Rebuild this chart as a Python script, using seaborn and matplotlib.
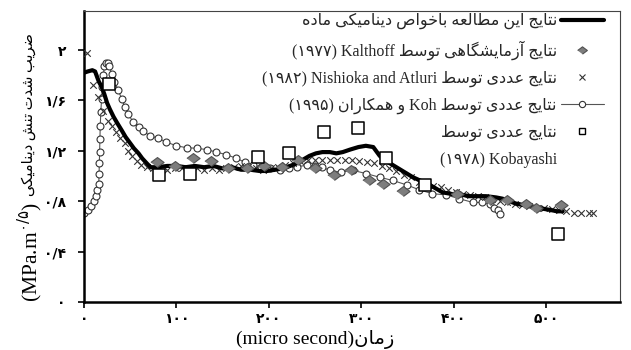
import unicodedata
import matplotlib
matplotlib.use("Agg")
import matplotlib.pyplot as plt
from matplotlib.lines import Line2D
import seaborn as sns

# ---------------------------------------------------------------- data
# time in micro seconds, dynamic stress intensity factor in MPa.m^0.5
study = [(0, 1.82), (4, 1.83), (9, 1.84), (12, 1.83), (14, 1.79), (16, 1.75),
         (19, 1.71), (22, 1.65), (25, 1.58), (28, 1.53), (32, 1.47), (36, 1.42),
         (41, 1.36), (45, 1.31), (50, 1.26), (54, 1.22), (59, 1.18), (63, 1.14),
         (68, 1.10), (72, 1.07), (80, 1.07), (90, 1.08), (100, 1.08), (110, 1.07),
         (120, 1.08), (130, 1.07), (140, 1.08), (150, 1.06), (160, 1.07), (170, 1.05),
         (180, 1.05), (190, 1.04), (198, 1.04), (207, 1.05), (215, 1.06), (223, 1.08),
         (230, 1.10), (237, 1.13), (244, 1.16), (251, 1.18), (258, 1.19), (266, 1.19),
         (273, 1.18), (280, 1.19), (288, 1.21), (297, 1.23), (305, 1.24), (313, 1.23),
         (320, 1.16), (329, 1.11), (338, 1.07), (347, 1.03), (356, 0.99), (365, 0.96),
         (374, 0.93), (381, 0.90), (388, 0.87), (396, 0.86), (403, 0.85), (410, 0.85),
         (417, 0.84), (426, 0.84), (435, 0.84), (446, 0.83), (453, 0.82), (460, 0.80),
         (468, 0.78), (475, 0.77), (482, 0.76), (490, 0.75), (497, 0.74), (505, 0.73),
         (512, 0.72), (518, 0.72)]

kalthoff = [(79, 1.11), (99, 1.08), (118, 1.14), (137, 1.12), (156, 1.06), (176, 1.06),
            (195, 1.08), (214, 1.07), (232, 1.13), (250, 1.06), (270, 1.01), (289, 1.045),
            (308, 0.965), (324, 0.94), (345, 0.88), (404, 0.86), (439, 0.81), (458, 0.81),
            (478, 0.78), (489, 0.75), (516, 0.77)]

nishioka = [(3, 1.98), (10, 1.72), (15, 1.63), (21, 1.52), (26, 1.44), (30, 1.40),
            (35, 1.35), (39, 1.30), (44, 1.26), (48, 1.20), (52, 1.16), (57, 1.12),
            (62, 1.085), (68, 1.07), (75, 1.06), (82, 1.06), (90, 1.05), (98, 1.06),
            (106, 1.06), (114, 1.05), (122, 1.06), (130, 1.05), (138, 1.06), (146, 1.05),
            (154, 1.06), (162, 1.07), (170, 1.08), (178, 1.07), (186, 1.06), (194, 1.05),
            (202, 1.06), (210, 1.07), (218, 1.09), (226, 1.10), (234, 1.12), (242, 1.125),
            (250, 1.13), (258, 1.13), (266, 1.13), (274, 1.13), (282, 1.13), (290, 1.125),
            (298, 1.12), (306, 1.115), (314, 1.10), (322, 1.08), (330, 1.06), (338, 1.04),
            (346, 1.01), (354, 0.99), (362, 0.95), (370, 0.93), (378, 0.92), (386, 0.91),
            (394, 0.89), (402, 0.87), (410, 0.86), (418, 0.85), (426, 0.84), (434, 0.83),
            (442, 0.82), (450, 0.80), (458, 0.79), (466, 0.78), (474, 0.77), (482, 0.76),
            (490, 0.75), (498, 0.745), (506, 0.74), (514, 0.73), (522, 0.72), (530, 0.71),
            (538, 0.71), (546, 0.71), (551, 0.71)]

koh = [(0, 0.71), (4.5, 0.73), (8, 0.76), (11, 0.80), (13, 0.84), (14.5, 0.89),
       (16, 0.94), (16.3, 1.02), (16.6, 1.10), (16.9, 1.19), (17.2, 1.29), (17.6, 1.40),
       (18.2, 1.51), (19, 1.61), (20, 1.71), (21, 1.80), (22, 1.87), (23.5, 1.90),
       (25.5, 1.90), (27.5, 1.87), (30, 1.81), (33, 1.75), (37, 1.68), (41, 1.61),
       (44, 1.55), (48, 1.49), (53, 1.43), (59, 1.39), (64, 1.36), (71, 1.32),
       (80, 1.30), (89, 1.27), (100, 1.24), (111, 1.225), (122, 1.22), (133, 1.21),
       (143, 1.19), (154, 1.17), (165, 1.14), (174, 1.11), (183, 1.09), (192, 1.07),
       (201, 1.06), (212, 1.045), (222, 1.06), (231, 1.075), (241, 1.085), (250, 1.08),
       (258, 1.07), (266, 1.045), (278, 1.03), (291, 1.045), (305, 1.02), (320, 0.99),
       (334, 0.965), (349, 0.93), (363, 0.89), (377, 0.86), (392, 0.85), (406, 0.82),
       (421, 0.79), (431, 0.79), (439, 0.78), (444, 0.75), (448, 0.73), (450, 0.70)]

kobayashi = [(27, 1.73), (81, 1.01), (115, 1.02), (188, 1.15), (222, 1.18),
             (260, 1.35), (296, 1.38), (327, 1.14), (369, 0.93), (513, 0.54)]

x_ticks = [0, 100, 200, 300, 400, 500]
x_tick_labels = ["۰", "۱۰۰", "۲۰۰", "۳۰۰", "۴۰۰", "۵۰۰"]
y_ticks = [0, 0.4, 0.8, 1.2, 1.6, 2.0]
y_tick_labels = ["۰", "۰/۴", "۰/۸", "۱/۲", "۱/۶", "۲"]


# ------------------------------------------------- Persian text shaping
RIGHT_JOINING = set("اآأإدذرزژوؤة")


def _is_letter(ch):
    return "\u0620" <= ch <= "\u06FF" and unicodedata.category(ch) == "Lo"


def _form(ch, form):
    try:
        return unicodedata.lookup(unicodedata.name(ch) + " " + form + " FORM")
    except KeyError:
        return ch


def rtl(text):
    """Join Persian letters into contextual forms and lay them out right to left."""
    out = []
    for i, ch in enumerate(text):
        if not _is_letter(ch):
            out.append(ch)
            continue
        prev = text[i - 1] if i > 0 else ""
        nxt = text[i + 1] if i + 1 < len(text) else ""
        jp = bool(prev) and _is_letter(prev) and prev not in RIGHT_JOINING
        jn = ch not in RIGHT_JOINING and bool(nxt) and _is_letter(nxt)
        form = ("MEDIAL" if jp and jn else "FINAL" if jp
                else "INITIAL" if jn else "ISOLATED")
        out.append(_form(ch, form))
    return "".join(reversed(out))


# ------------------------------------------------------------- styling
sns.set_theme(style="white")
plt.rcParams["font.family"] = ["Liberation Serif", "DejaVu Sans"]
plt.rcParams["mathtext.fontset"] = "dejavusans"

fig = plt.figure(figsize=(6.31, 3.5), dpi=100)
ax = fig.add_axes([84 / 631, 48 / 350, 536 / 631, 291 / 350])

# ------------------------------------------------------------- series
sns.lineplot(x=[p[0] for p in koh], y=[p[1] for p in koh], ax=ax,
             sort=False, estimator=None, color="#555555", lw=0.8,
             marker="o", markersize=5, markerfacecolor="white",
             markeredgecolor="#333333", markeredgewidth=0.8, zorder=2)

sns.scatterplot(x=[p[0] for p in nishioka], y=[p[1] for p in nishioka], ax=ax,
                marker="x", s=22, color="#333333", linewidth=0.8, zorder=3)

sns.lineplot(x=[p[0] for p in study], y=[p[1] for p in study], ax=ax,
             sort=False, estimator=None, color="black", lw=3.0, zorder=4)

diamond = [(-1, 0), (0, 0.75), (1, 0), (0, -0.75)]
sns.scatterplot(x=[p[0] for p in kalthoff], y=[p[1] for p in kalthoff], ax=ax,
                marker=diamond, s=90, color="#7d7d7d", edgecolor="#505050",
                linewidth=0.8, zorder=5)

sns.scatterplot(x=[p[0] for p in kobayashi], y=[p[1] for p in kobayashi], ax=ax,
                marker="s", s=70, color="white", edgecolor="black",
                linewidth=1.1, zorder=6)

# ---------------------------------------------------------------- axes
ax.set_xlim(0, 580)
ax.set_ylim(0, 2.31)
ax.set_xticks(x_ticks)
ax.set_xticklabels(x_tick_labels)
ax.set_yticks(y_ticks)
ax.set_yticklabels(y_tick_labels)
for lab in ax.get_xticklabels() + ax.get_yticklabels():
    lab.set_fontfamily(["DejaVu Sans"])
    lab.set_fontweight("bold")
ax.tick_params(axis="both", direction="out", length=4, width=1.2,
               color="black", labelsize=10, labelcolor="black",
               bottom=True, left=True)
ax.tick_params(axis="y", pad=9)
ax.tick_params(axis="x", pad=3)

for side in ("left", "bottom"):
    ax.spines[side].set_linewidth(1.8)
    ax.spines[side].set_color("black")
for side in ("top", "right"):
    ax.spines[side].set_linewidth(0.8)
    ax.spines[side].set_color("#444444")
ax.grid(False)

ax.set_xlabel("(micro second)" + rtl("زمان"), fontsize=14, color="black")
ax.xaxis.set_label_coords((315 - 84) / 536, -0.095)
ax.set_ylabel("")

# vertical axis title: unit part below, Persian words above it
fig.text(30 / 631, 1 - 302 / 350, "(MPa.m$^{\\mathrm{۰/۵}}$)", rotation=90,
         ha="center", va="bottom", fontsize=15.5, color="black")
fig.text(29 / 631, 1 - 196 / 350, rtl("ضریب شدت تنش دینامیکی"), rotation=90,
         ha="center", va="bottom", fontsize=10.5, color="black")

# -------------------------------------------------------------- legend
handles = [
    Line2D([], [], color="black", lw=3.0),
    Line2D([], [], ls="none", marker=diamond, ms=7, mfc="#7d7d7d", mec="#505050", mew=0.8),
    Line2D([], [], ls="none", marker="x", ms=4.5, color="#333333", mew=0.8),
    Line2D([], [], color="#555555", lw=0.8, marker="o", ms=4.5, mfc="white",
           mec="#333333", mew=0.8),
    Line2D([], [], ls="none", marker="s", ms=5, mfc="white", mec="black", mew=1.0),
    Line2D([], [], ls="none"),
]
labels = [
    rtl("نتایج این مطالعه باخواص دینامیکی ماده"),
    "(۱۹۷۷) Kalthoff " + rtl("نتایج آزمایشگاهی توسط"),
    "(۱۹۸۲) Nishioka and Atluri " + rtl("نتایج عددی توسط"),
    "(۱۹۹۵) " + rtl("و همکاران") + " Koh " + rtl("نتایج عددی توسط"),
    rtl("نتایج عددی توسط"),
    "(۱۹۷۸) Kobayashi",
]
ax.legend(handles, labels, loc="upper right", markerfirst=False, frameon=False,
          bbox_to_anchor=(604 / 631, 1 - 13 / 350), bbox_transform=fig.transFigure,
          fontsize=11.5, handlelength=2.7, handletextpad=0.25, labelspacing=0.68,
          borderpad=0, borderaxespad=0, numpoints=1)

fig.savefig("out.png", dpi=100)
